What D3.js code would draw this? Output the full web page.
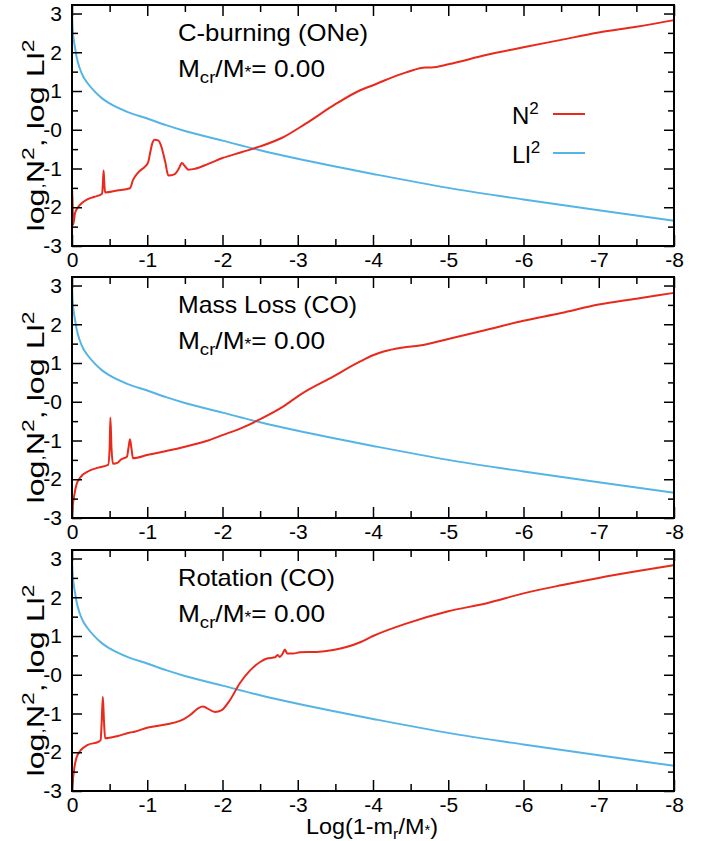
<!DOCTYPE html>
<html>
<head>
<meta charset="utf-8">
<script src="https://cdn.jsdelivr.net/npm/d3@7"></script>
<style>
body { margin: 0; background: #fff; }
svg { display: block; font-family: "Liberation Sans", Arial, Helvetica, sans-serif; }
.frame { fill: none; stroke: #000; stroke-width: 2; }
.tick line { stroke: #000; stroke-width: 1.5; }
.n2 { fill: none; stroke: #e8291c; stroke-width: 2; }
.ll2 { fill: none; stroke: #55b4e6; stroke-width: 2; }
</style>
</head>
<body>
<svg width="708" height="841"></svg>
<script>
const width = 708
const height = 841
const margins = { left: 72, right: 34 }
const panelTops = [5, 277, 550]
const panelHeight = 241

// tick values
const xTicks = [0, -1, -2, -3, -4, -5, -6, -7, -8]
const xMinor = [-0.5, -1.5, -2.5, -3.5, -4.5, -5.5, -6.5, -7.5]
const yTicks = [-3, -2, -1, 0, 1, 2, 3]
const yMinor = [-2.5, -1.5, -0.5, 0.5, 1.5, 2.5]

// panel titles
const panelNames = ["C-burning (ONe)", "Mass Loss (CO)", "Rotation (CO)"]
const panelNameWidths = [190, 179, 157]

// log Ll^2 (same in every panel), [log(1-mr/M*), value]
const ll2 = [[0, 3.0], [-0.004, 2.8], [-0.009, 2.6], [-0.015, 2.45], [-0.025, 2.3], [-0.04, 2.12],
  [-0.06, 1.89], [-0.1, 1.6], [-0.15, 1.37], [-0.2, 1.22], [-0.3, 0.99], [-0.4, 0.81],
  [-0.5, 0.68], [-0.75, 0.45], [-1, 0.29], [-1.25, 0.12], [-1.5, -0.03], [-2, -0.28],
  [-2.5, -0.53], [-3, -0.75], [-3.5, -0.95], [-4, -1.14], [-5, -1.5], [-6, -1.8],
  [-7, -2.08], [-8, -2.35]]

// log N^2, C-burning (ONe)
const n2CBurning = [[0, -3], [-0.004, -1.57], [-0.015, -2.45], [-0.04, -2.15], [-0.08, -2.0],
  [-0.14, -1.88], [-0.21, -1.79], [-0.3, -1.73], [-0.4, -1.65], [-0.41, -1.4], [-0.42, -1.05],
  [-0.43, -1.4], [-0.44, -1.62], [-0.6, -1.57], [-0.77, -1.51], [-0.81, -1.3], [-0.88, -1.1],
  [-0.97, -0.95], [-1.01, -0.85], [-1.04, -0.58], [-1.07, -0.33], [-1.1, -0.26], [-1.15, -0.28],
  [-1.19, -0.45], [-1.24, -0.84], [-1.28, -1.18], [-1.36, -1.15], [-1.42, -1.0], [-1.46, -0.86],
  [-1.5, -0.94], [-1.55, -1.03], [-1.63, -1.01], [-1.81, -0.88], [-2.0, -0.73], [-2.25, -0.58],
  [-2.5, -0.43], [-2.8, -0.2], [-3.1, 0.15], [-3.5, 0.66], [-3.83, 1.02], [-4.0, 1.15],
  [-4.44, 1.48], [-4.7, 1.61], [-4.78, 1.61], [-5, 1.69], [-5.5, 1.93], [-6, 2.13],
  [-6.5, 2.32], [-7, 2.51], [-7.5, 2.66], [-8, 2.83]]

// log N^2, Mass Loss (CO)
const n2MassLoss = [[0, -3], [-0.01, -2.7], [-0.027, -2.45], [-0.058, -2.15], [-0.12, -1.93],
  [-0.21, -1.8], [-0.35, -1.7], [-0.48, -1.63], [-0.5, -1.2], [-0.51, -0.41], [-0.525, -1.2],
  [-0.545, -1.6], [-0.61, -1.57], [-0.65, -1.49], [-0.73, -1.42], [-0.75, -1.2], [-0.77, -0.97],
  [-0.79, -1.2], [-0.81, -1.46], [-1.01, -1.37], [-1.28, -1.26], [-1.5, -1.16], [-1.81, -1.0],
  [-2.0, -0.86], [-2.25, -0.68], [-2.48, -0.47], [-2.81, -0.12], [-3.03, 0.18], [-3.47, 0.65],
  [-3.83, 1.04], [-4.0, 1.2], [-4.13, 1.29], [-4.4, 1.4], [-4.62, 1.45], [-5, 1.62],
  [-5.5, 1.85], [-6, 2.09], [-6.5, 2.29], [-7, 2.51], [-7.5, 2.66], [-8, 2.81]]

// log N^2, Rotation (CO)
const n2Rotation = [[0, -3], [-0.01, -2.75], [-0.027, -2.46], [-0.058, -2.15], [-0.12, -1.94],
  [-0.21, -1.81], [-0.35, -1.73], [-0.38, -1.69], [-0.395, -1.2], [-0.41, -0.57], [-0.425, -1.2],
  [-0.44, -1.64], [-0.61, -1.58], [-0.77, -1.49], [-0.83, -1.47], [-1.01, -1.36], [-1.28, -1.27],
  [-1.48, -1.15], [-1.57, -1.04], [-1.68, -0.86], [-1.74, -0.82], [-1.79, -0.86], [-1.9, -0.96],
  [-1.99, -0.91], [-2.1, -0.65], [-2.23, -0.22], [-2.37, 0.12], [-2.5, 0.33], [-2.59, 0.42],
  [-2.7, 0.45], [-2.73, 0.51], [-2.76, 0.46], [-2.8, 0.55], [-2.83, 0.65], [-2.86, 0.55],
  [-2.94, 0.55], [-3.03, 0.58], [-3.25, 0.59], [-3.47, 0.64], [-3.83, 0.84], [-4, 1.0],
  [-4.44, 1.32], [-5, 1.64], [-5.5, 1.84], [-6, 2.1], [-6.5, 2.31], [-7, 2.5], [-7.5, 2.67],
  [-8, 2.83]]

const n2Series = [n2CBurning, n2MassLoss, n2Rotation]

let svg = d3.select("svg")

// shared x scale
let xScale = d3.scaleLinear()
  .domain([0, -8])
  .range([margins.left, width - margins.right])

panelTops.forEach((top, i) => {
  let yScale = d3.scaleLinear()
    .domain([-3, 3.22])
    .range([top + panelHeight, top])

  let lineGen = d3.line()
    .x(d => xScale(d[0]))
    .y(d => yScale(d[1]))
    .curve(d3.curveMonotoneX)

  const g = svg.append("g")

  // curves
  g.append("path").attr("class", "ll2").attr("d", lineGen(ll2))
  g.append("path").attr("class", "n2").attr("d", lineGen(n2Series[i]))

  // inward ticks on all four sides
  const bottom = top + panelHeight
  const addAxis = (axis, transform, labels) => {
    const a = g.append("g")
      .attr("transform", transform)
      .call(axis)
    a.select(".domain").remove()
    a.attr("font-family", null).attr("font-size", 21)
    a.selectAll("text").attr("fill", "#000")
    if (!labels) a.selectAll("text").remove()
  }
  addAxis(d3.axisBottom(xScale).tickValues(xTicks).tickSize(-11).tickPadding(6)
    .tickFormat(d => String(d)), `translate(0,${bottom})`, true)
  addAxis(d3.axisBottom(xScale).tickValues(xMinor).tickSize(-7).tickFormat(""), `translate(0,${bottom})`, false)
  addAxis(d3.axisTop(xScale).tickValues(xTicks).tickSize(-11).tickFormat(""), `translate(0,${top})`, false)
  addAxis(d3.axisTop(xScale).tickValues(xMinor).tickSize(-7).tickFormat(""), `translate(0,${top})`, false)
  addAxis(d3.axisLeft(yScale).tickValues(yTicks).tickSize(-10).tickPadding(10)
    .tickFormat(d => d === 0 ? "-0" : String(d)), `translate(${margins.left},0)`, true)
  addAxis(d3.axisLeft(yScale).tickValues(yMinor).tickSize(-6).tickFormat(""), `translate(${margins.left},0)`, false)
  addAxis(d3.axisRight(yScale).tickValues(yTicks).tickSize(-10).tickFormat(""), `translate(${width - margins.right},0)`, false)
  addAxis(d3.axisRight(yScale).tickValues(yMinor).tickSize(-6).tickFormat(""), `translate(${width - margins.right},0)`, false)

  // frame
  g.append("rect")
    .attr("class", "frame")
    .attr("x", margins.left)
    .attr("y", top)
    .attr("width", width - margins.right - margins.left)
    .attr("height", panelHeight)

  // panel title
  g.append("text")
    .attr("x", 178).attr("y", top + 36)
    .attr("font-size", 24)
    .attr("textLength", panelNameWidths[i]).attr("lengthAdjust", "spacingAndGlyphs")
    .text(panelNames[i])

  const t2 = g.append("text")
    .attr("x", 178).attr("y", top + 72)
    .attr("font-size", 24)
    .attr("textLength", 147).attr("lengthAdjust", "spacingAndGlyphs")
  t2.append("tspan").text("M")
  t2.append("tspan").attr("font-size", 17).attr("dy", 6).text("cr")
  t2.append("tspan").attr("dy", -6).text("/M")
  t2.append("tspan").attr("font-size", 16).attr("dy", 1).text("*")
  t2.append("tspan").attr("dy", -1).text("= 0.00")

  // y title
  const yt = g.append("text")
    .attr("transform", `translate(44,${top + panelHeight / 2 + 10}) rotate(-90)`)
    .attr("text-anchor", "middle")
    .attr("font-size", 24)
    .attr("textLength", 192).attr("lengthAdjust", "spacingAndGlyphs")
  yt.append("tspan").text("log")
  yt.append("tspan").attr("font-size", 14).text(",")
  yt.append("tspan").text("N")
  yt.append("tspan").attr("font-size", 17).attr("dy", -10).text("2")
  yt.append("tspan").attr("dy", 10).text(", log Ll")
  yt.append("tspan").attr("font-size", 17).attr("dy", -10).text("2")

  // legend (first panel only)
  if (i === 0) {
    const legend = g.append("g")
      .selectAll("g")
      .data([{ name: "N", cls: "n2", y: 124 }, { name: "Ll", cls: "ll2", y: 163 }])
      .enter()
      .append("g")
    const lt = legend.append("text")
      .attr("x", 512).attr("y", d => d.y)
      .attr("font-size", 24)
    lt.append("tspan").text(d => d.name)
    lt.append("tspan").attr("font-size", 17).attr("dy", -10).text("2")
    legend.append("line")
      .attr("class", d => d.cls)
      .attr("x1", 553).attr("x2", 585)
      .attr("y1", d => d.y - 10).attr("y2", d => d.y - 10)
  }
})

// x title
const xt = svg.append("text")
  .attr("x", 372).attr("y", 834)
  .attr("text-anchor", "middle")
  .attr("font-size", 22)
  .attr("textLength", 132).attr("lengthAdjust", "spacingAndGlyphs")
xt.append("tspan").text("Log(1-m")
xt.append("tspan").attr("font-size", 15).attr("dy", 5).text("r")
xt.append("tspan").attr("dy", -5).text("/M")
xt.append("tspan").attr("font-size", 14).attr("dy", 1).text("*")
xt.append("tspan").attr("dy", -1).text(")")
</script>
</body>
</html>
